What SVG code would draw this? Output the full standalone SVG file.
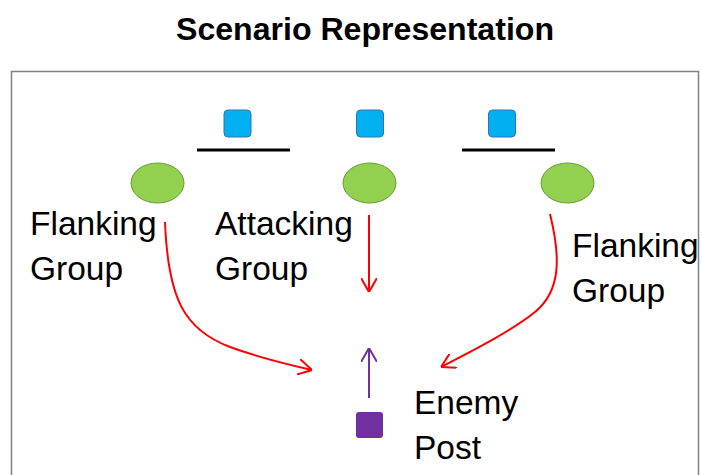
<svg xmlns="http://www.w3.org/2000/svg" width="702" height="475" viewBox="0 0 702 475">
<style>
.title{font-family:"Liberation Sans",Arial,sans-serif;font-weight:bold;font-size:32px;fill:#000}
.lbl{font-family:"Liberation Sans",Arial,sans-serif;font-size:33.5px;fill:#000}
.unit{fill:#00B0F0;stroke:#2E75B6;stroke-width:1}
.grp{fill:#92D050;stroke:#6A9A3A;stroke-width:1}
.bar{stroke:#000;stroke-width:3}
.red{fill:none;stroke:#FF0000;stroke-width:2}
.pur{fill:none;stroke:#7030A0;stroke-width:2}
</style>
<defs>
<marker id="ahRed" viewBox="0 0 14 16" refX="14" refY="8" markerWidth="14" markerHeight="16" markerUnits="userSpaceOnUse" orient="auto">
<path d="M0,0 L14,8 L0,16" fill="none" stroke="#FF0000" stroke-width="2" stroke-linejoin="round"/>
</marker>
<marker id="ahPur" viewBox="0 0 14 16" refX="14" refY="8" markerWidth="14" markerHeight="16" markerUnits="userSpaceOnUse" orient="auto">
<path d="M0,0 L14,8 L0,16" fill="none" stroke="#7030A0" stroke-width="2" stroke-linejoin="round"/>
</marker>
</defs>
<rect width="702" height="475" fill="#fff"/>
<text class="title" x="365" y="40" text-anchor="middle" textLength="378" lengthAdjust="spacingAndGlyphs">Scenario Representation</text>
<path d="M11.5,480 L11.5,71.5 L698.5,71.5 L698.5,480" fill="none" stroke="#808080" stroke-width="1.5"/>
<g id="unit-left"><rect class="unit" x="224" y="110" width="27" height="27" rx="4"/></g>
<g id="unit-mid"><rect class="unit" x="356.5" y="110" width="27" height="27" rx="4"/></g>
<g id="unit-right"><rect class="unit" x="488.5" y="110" width="27" height="27" rx="4"/></g>
<g id="bar-left"><line class="bar" x1="197" y1="150" x2="290" y2="150"/></g>
<g id="bar-right"><line class="bar" x1="462" y1="150" x2="555" y2="150"/></g>
<g id="flank-left">
<ellipse class="grp" cx="157.5" cy="183" rx="26.5" ry="20"/>
<text class="lbl" x="30" y="235">Flanking</text>
<text class="lbl" x="30" y="280">Group</text>
</g>
<g id="attack">
<ellipse class="grp" cx="369.5" cy="183" rx="26.5" ry="20"/>
<text class="lbl" x="215" y="235">Attacking</text>
<text class="lbl" x="215" y="280">Group</text>
</g>
<g id="flank-right">
<ellipse class="grp" cx="567.5" cy="183" rx="26.5" ry="20"/>
<text class="lbl" x="572" y="257">Flanking</text>
<text class="lbl" x="572" y="302">Group</text>
</g>
<g id="enemy-post">
<rect x="356" y="412" width="27" height="26" rx="3" fill="#7030A0"/>
<text class="lbl" x="414" y="414">Enemy</text>
<text class="lbl" x="414" y="459">Post</text>
</g>
<g id="connectors">
<path class="red" d="M165,222 C168,300 185,330 230,347 C260,358 290,365 312,370" marker-end="url(#ahRed)"/>
<path class="red" d="M369,215 L369,292" marker-end="url(#ahRed)"/>
<path class="red" d="M550,214 C560,255 562,290 535,312 C510,332 470,352 441,367" marker-end="url(#ahRed)"/>
<path class="pur" d="M369,398 L369,348" marker-end="url(#ahPur)"/>
</g>
</svg>
